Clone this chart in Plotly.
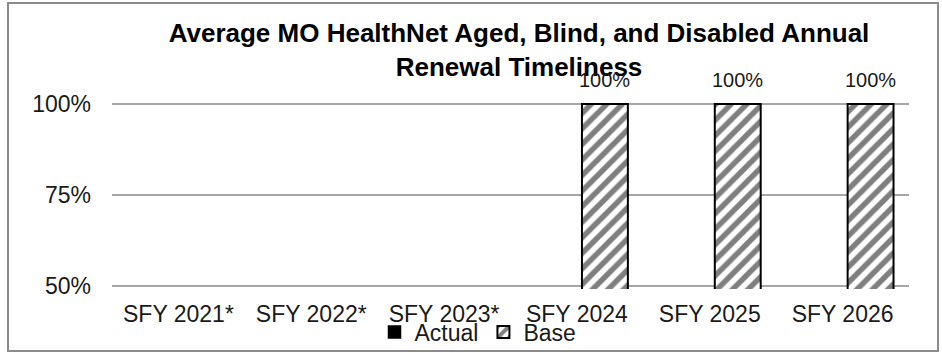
import plotly.graph_objects as go

categories = ["SFY 2021*", "SFY 2022*", "SFY 2023*", "SFY 2024", "SFY 2025", "SFY 2026"]
actual = [None, None, None, None, None, None]
base = [None, None, None, 1.0, 1.0, 1.0]
y_ticks = [0.5, 0.75, 1.0]

W, H = 942, 353
L, R = 112, 909
Y100, Y50 = 104, 286          # pixel rows of the 100% and 50% gridlines
PAD = 3                        # keep end gridlines inside the plot area
T, B = Y100 - PAD, Y50 + PAD
per_px = 0.5 / (Y50 - Y100)
y_range = [0.5 - PAD * per_px, 1.0 + PAD * per_px]

def px(x):
    return (x - L) / (R - L)

def py(y):
    return (B - y) / (B - T)

FONT = "Liberation Sans, Arial, sans-serif"

fig = go.Figure()
fig.add_trace(go.Bar(
    name="Actual", x=categories, y=actual,
    marker=dict(color="black", line=dict(color="black", width=1.5)),
))
fig.add_trace(go.Bar(
    name="Base", x=categories, y=base,
    marker=dict(color="white", line=dict(color="black", width=2),
                pattern=dict(shape="/", fgcolor="black", bgcolor="white", size=11, solidity=0.5)),
))

# data labels above the Base bars
for c, v in zip(categories, base):
    if v is not None:
        fig.add_annotation(x=c, y=v, text=f"{v:.0%}", showarrow=False,
                           xshift=28, yshift=24, font=dict(size=20, color="#1a1a1a", family=FONT))

fig.update_layout(
    width=W, height=H,
    margin=dict(l=L, r=W - R, t=T, b=H - B, autoexpand=False),
    paper_bgcolor="white", plot_bgcolor="white",
    font=dict(family=FONT, size=23, color="#1a1a1a"),
    barmode="group", bargap=0.157, bargroupgap=0.18,
    title=dict(
        text="<b>Average MO HealthNet Aged, Blind, and Disabled Annual<br>Renewal Timeliness</b>",
        x=px(519), xref="paper", xanchor="center",
        y=1 - 42 / H, yref="container", yanchor="top",
        font=dict(size=26, family=FONT, color="black"),
    ),
    xaxis=dict(showgrid=False, showline=False, ticks="", tickfont=dict(size=23),
               ticklabelstandoff=9, automargin=False),
    yaxis=dict(range=y_range, tickvals=y_ticks, tickformat=".0%",
               showgrid=True, gridcolor="#a6a6a6", gridwidth=1.5,
               zeroline=False, showline=False, ticklabelstandoff=20,
               tickfont=dict(size=23), automargin=False),
    legend=dict(orientation="h", x=px(478), xanchor="center", y=py(332), yanchor="middle",
                font=dict(size=23), itemwidth=30, tracegroupgap=0, bgcolor="rgba(0,0,0,0)"),
    showlegend=True,
)

fig.add_shape(type="rect", xref="paper", yref="paper",
              x0=px(8), x1=px(938), y0=py(351), y1=py(3),
              line=dict(color="#8c8c8c", width=2), fillcolor="rgba(0,0,0,0)", layer="below")

fig.write_html("out.html", config={"displayModeBar": False},
               post_script="document.body.style.margin='0';document.body.style.padding='0';")
